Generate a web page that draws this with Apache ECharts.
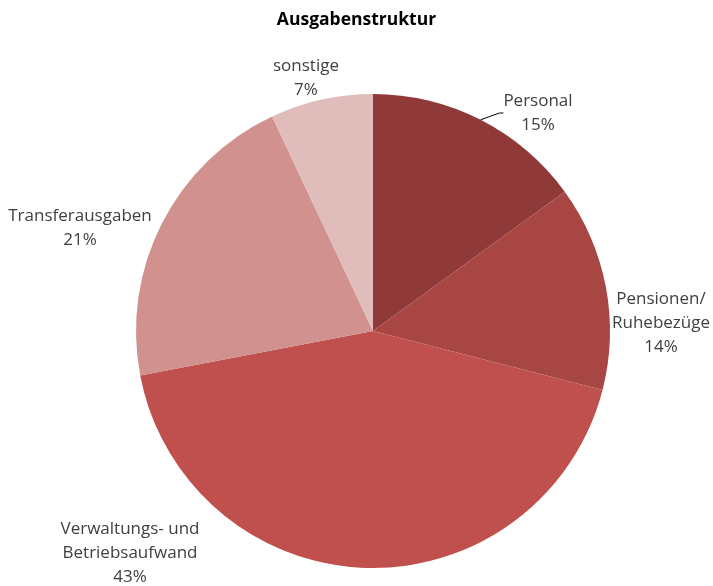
<!DOCTYPE html>
<html style="height: 100%">
<head>
    <meta charset="utf-8">
</head>
<body style="height: 100%; margin: 0; background: #fff">
<div id="container" style="width: 713px; height: 586px"></div>
<script type="text/javascript" src="https://cdn.jsdelivr.net/npm/echarts@6/dist/echarts.min.js"></script>
<script type="text/javascript">
var categories = ['Personal', 'Pensionen/\nRuhebezüge', 'Verwaltungs- und\nBetriebsaufwand', 'Transferausgaben', 'sonstige'];
var shares = [15, 14, 43, 21, 7];
var colors = ['#8f3a38', '#a84644', '#c0504d', '#d1918f', '#e0bcbb'];

// where Excel put each label (center of the text block)
var labelSpots = [[538, 113], [661, 323], [130, 553], [80, 228], [306, 78]];

var myChart = echarts.init(document.getElementById('container'));

var pieData = [];
for (var i = 0; i < categories.length; i++) {
    pieData.push({
        name: categories[i],
        value: shares[i],
        itemStyle: { color: colors[i] },
        labelLine: { show: i === 0 }
    });
}

var option = {
    animation: false,
    title: {
        text: 'Ausgabenstruktur',
        left: 'center',
        top: 6,
        textStyle: {
            fontFamily: 'Open Sans',
            fontSize: 17.5,
            fontWeight: 'bold',
            color: '#000'
        }
    },
    series: [{
        type: 'pie',
        center: [373, 331],
        radius: 237,
        startAngle: 90,
        clockwise: true,
        data: pieData,
        label: {
            show: true,
            formatter: '{b}\n{c}%',
            fontFamily: 'Open Sans',
            fontSize: 17,
            lineHeight: 24,
            color: '#404040',
            align: 'center',
            overflow: 'none'
        },
        labelLine: {
            lineStyle: { color: '#000', width: 1 },
            length: 6,
            length2: 4,
            smooth: false
        },
        labelLayout: function (params) {
            var p = labelSpots[params.dataIndex];
            return {
                x: p[0],
                y: p[1],
                align: 'center',
                verticalAlign: 'middle'
            };
        },
        emphasis: { disabled: true }
    }]
};

myChart.setOption(option);
</script>
</body>
</html>
